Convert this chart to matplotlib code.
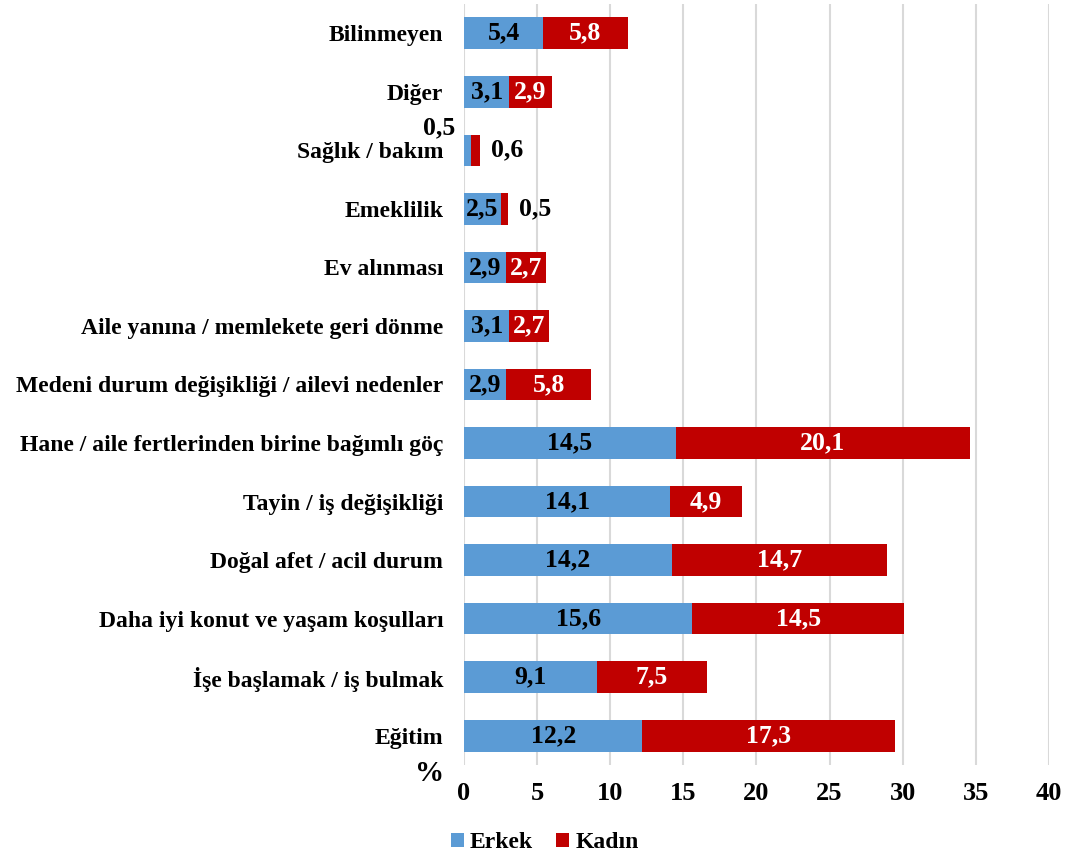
import matplotlib
matplotlib.use('Agg')
import matplotlib.pyplot as plt
import numpy as np

plt.rcParams['font.family'] = ['Liberation Serif', 'DejaVu Serif']
plt.rcParams['font.weight'] = 'bold'

# categories, bottom to top
categories = ['Eğitim', 'İşe başlamak / iş bulmak', 'Daha iyi konut ve yaşam koşulları',
	'Doğal afet / acil durum', 'Tayin / iş değişikliği',
	'Hane / aile fertlerinden birine bağımlı göç',
	'Medeni durum değişikliği / ailevi nedenler',
	'Aile yanına / memlekete geri dönme', 'Ev alınması', 'Emeklilik',
	'Sağlık / bakım', 'Diğer', 'Bilinmeyen']
erkek = [12.2, 9.1, 15.6, 14.2, 14.1, 14.5, 2.9, 3.1, 2.9, 2.5, 0.5, 3.1, 5.4]
kadin = [17.3, 7.5, 14.5, 14.7, 4.9, 20.1, 5.8, 2.7, 2.7, 0.5, 0.6, 2.9, 5.8]
xticks = [0, 5, 10, 15, 20, 25, 30, 35, 40]

blue = '#5B9BD5'
red = '#C00000'
fs = 18.5

fig = plt.figure(figsize = (10.68, 8.59), dpi = 100)
ax = fig.add_axes([0.4345, 0.1094, 0.5475, 0.886])

y = np.arange(len(categories))
ax.barh(y, erkek, height = 0.54, color = blue, label = 'Erkek', zorder = 3)
ax.barh(y, kadin, left = erkek, height = 0.54, color = red, label = 'Kadın', zorder = 3)

for i in range(len(categories)):
	e, k = erkek[i], kadin[i]
	# erkek labels
	if e >= 1:
		ax.text(e / 2, y[i], '{:.1f}'.format(e).replace('.', ','), ha = 'center', va = 'center',
			fontsize = fs, fontweight = 'bold', color = 'black', zorder = 4)
	else:
		ax.annotate('{:.1f}'.format(e).replace('.', ','), (0, y[i]), xytext = (-6, 16),
			textcoords = 'offset points', ha = 'right', va = 'center',
			fontsize = fs, fontweight = 'bold', color = 'black')
	# kadin labels
	if k >= 1:
		ax.text(e + k / 2, y[i], '{:.1f}'.format(k).replace('.', ','), ha = 'center', va = 'center',
			fontsize = fs, fontweight = 'bold', color = 'white', zorder = 4)
	else:
		ax.annotate('{:.1f}'.format(k).replace('.', ','), (e + k, y[i]), xytext = (8, 0),
			textcoords = 'offset points', ha = 'left', va = 'center',
			fontsize = fs, fontweight = 'bold', color = 'black')

ax.set_xlim(0, 40)
ax.set_ylim(-0.5, len(categories) - 0.5)
ax.set_xticks(xticks)
ax.set_xticklabels([str(t) for t in xticks], fontsize = 19, fontweight = 'bold')
ax.set_yticks(y)
ax.set_yticklabels(categories, fontsize = 17, fontweight = 'bold')
ax.tick_params(axis = 'y', length = 0, pad = 15)
ax.tick_params(axis = 'x', length = 0, pad = 12)
ax.grid(axis = 'x', color = '#D9D9D9', linewidth = 1.5, zorder = 0)
for s in ax.spines.values():
	s.set_visible(False)

fig.text(0.416, 0.1, '%', fontsize = 21, fontweight = 'bold', ha = 'right', va = 'center')

fig.legend(loc = 'center', bbox_to_anchor = (0.51, 0.019), ncol = 2, frameon = False,
	prop = {'size': 17, 'weight': 'bold'}, handlelength = 0.55, handleheight = 0.55,
	handletextpad = 0.25, columnspacing = 1.0)

fig.savefig('out.png', dpi = 100)
